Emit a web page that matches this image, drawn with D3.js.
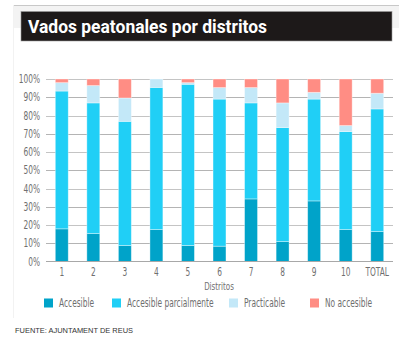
<!DOCTYPE html>
<html lang="es">
<head>
<meta charset="utf-8">
<title>Vados peatonales por distritos</title>
<script src="https://d3js.org/d3.v7.min.js"></script>
<style>
  body { margin: 0; background: #fff; }
  .cond { font-family: "Liberation Sans Narrow", "DejaVu Sans Condensed", "Roboto", sans-serif; }
</style>
</head>
<body>
<script>
// datos (porcentajes)
var distritos = ["1", "2", "3", "4", "5", "6", "7", "8", "9", "10", "TOTAL"];
var accesible    = [17.9, 15.3,  8.8, 17.5,  8.8,  8.4, 34.3, 10.9, 33.2, 17.5, 16.4];
var parcialmente = [75.5, 71.6, 68.0, 77.9, 88.3, 80.6, 52.6, 62.5, 55.8, 53.7, 67.2];
var practicable  = [ 4.6,  9.5, 12.8,  4.6,  0.9,  6.3,  8.4, 13.5,  3.7,  3.3,  8.6];
var noAccesible  = [ 2.0,  3.6, 10.4,  0.0,  2.0,  4.7,  4.7, 13.1,  7.3, 25.5,  7.8];
var series = ["Accesible", "Accesible parcialmente", "Practicable", "No accesible"];
var yTicks = [0, 10, 20, 30, 40, 50, 60, 70, 80, 90, 100];

var colores = ["#00a3c9", "#20cff6", "#c3e8f8", "#ff8d84"];

var w = 414, h = 337;
var svg = d3.select("body").append("svg")
    .attr("width", w)
    .attr("height", h);

// cabecera
svg.append("rect").attr("x", 13).attr("y", 5).attr("width", 386).attr("height", 23).attr("fill", "#f3f3f3");
svg.append("line").attr("x1", 13).attr("x2", 399).attr("y1", 5.5).attr("y2", 5.5).attr("stroke", "#c8c8c8");
svg.append("line").attr("x1", 13.5).attr("x2", 13.5).attr("y1", 5).attr("y2", 318).attr("stroke", "#f2f2f2");
svg.append("rect").attr("x", 21).attr("y", 11.5).attr("width", 371).attr("height", 29.5)
    .attr("fill", "#1d1919").attr("stroke", "#9a9a9a").attr("stroke-width", 0.6);
svg.append("text")
    .attr("x", 28).attr("y", 32.5)
    .attr("fill", "#fff")
    .attr("font-family", "Roboto, 'Liberation Sans', sans-serif")
    .attr("font-weight", "bold")
    .attr("font-size", 18.5)
    .attr("textLength", 239)
    .attr("lengthAdjust", "spacingAndGlyphs")
    .text("Vados peatonales por distritos");

// escalas
var x = d3.scaleBand()
    .domain(distritos)
    .range([46, 393])
    .paddingInner(0.59)
    .paddingOuter(0.295);

var y = d3.scaleLinear()
    .domain([0, 100])
    .range([261.5, 79]);

// rejilla
svg.append("g").selectAll("line")
    .data(yTicks.slice(1))
    .enter()
    .append("line")
    .attr("x1", 46).attr("x2", 393)
    .attr("y1", function(d) { return Math.round(y(d)) + 0.5; })
    .attr("y2", function(d) { return Math.round(y(d)) + 0.5; })
    .attr("stroke", function(d) { return d % 20 == 0 ? "#c4c4c4" : "#b4b4b4"; })
    .attr("stroke-width", 1);

// eje y
var yAxis = d3.axisLeft(y)
    .tickValues(yTicks)
    .tickFormat(function(d) { return d + "%"; })
    .tickSize(0)
    .tickPadding(6);
svg.append("g")
    .attr("transform", "translate(46,0)")
    .call(yAxis)
    .call(function(g) { g.select(".domain").remove(); })
    .selectAll("text")
    .attr("class", "cond")
    .attr("font-size", 11.5)
    .attr("fill", "#6f6f6f");

// barras apiladas
var filas = distritos.map(function(d, i) {
    return { distrito: d, a: accesible[i], p: parcialmente[i], pr: practicable[i], na: noAccesible[i] };
});
var stack = d3.stack().keys(["a", "p", "pr", "na"]);
var capas = stack(filas);

svg.append("g").selectAll("g")
    .data(capas)
    .enter()
    .append("g")
    .attr("fill", function(d, i) { return colores[i]; })
    .selectAll("rect")
    .data(function(d) { return d; })
    .enter()
    .append("rect")
    .attr("x", function(d) { return x(d.data.distrito); })
    .attr("y", function(d) { return y(d[1]); })
    .attr("width", x.bandwidth())
    .attr("height", function(d) { return Math.max(0, y(d[0]) - y(d[1])); })
    .attr("stroke", "rgba(255,255,255,0.45)")
    .attr("stroke-width", 0.8);

// eje x
svg.append("line")
    .attr("x1", 46).attr("x2", 393)
    .attr("y1", 261.5).attr("y2", 261.5)
    .attr("stroke", "#a8a8a8");

var xAxis = d3.axisBottom(x).tickSize(0).tickPadding(6);
svg.append("g")
    .attr("transform", "translate(0,261.5)")
    .call(xAxis)
    .call(function(g) { g.select(".domain").remove(); })
    .selectAll("text")
    .attr("class", "cond")
    .attr("font-size", 11.5)
    .attr("fill", "#6f6f6f");

svg.append("text")
    .attr("class", "cond")
    .attr("x", 219).attr("y", 289.5)
    .attr("text-anchor", "middle")
    .attr("font-size", 11)
    .attr("fill", "#6f6f6f")
    .text("Distritos");

// leyenda
var leyendaX = [44, 112, 229, 310];
var leyenda = svg.append("g").selectAll("g")
    .data(series)
    .enter()
    .append("g")
    .attr("transform", function(d, i) { return "translate(" + leyendaX[i] + ",303)"; });
leyenda.append("rect")
    .attr("x", 0).attr("y", -4.5)
    .attr("width", 9).attr("height", 9)
    .attr("fill", function(d, i) { return colores[i]; });
leyenda.append("text")
    .attr("class", "cond")
    .attr("x", 15).attr("y", 4)
    .attr("font-size", 11.5)
    .attr("fill", "#6f6f6f")
    .text(function(d) { return d; });

// letra estrecha: se comprime el texto si no hay fuente condensada
svg.selectAll("text.cond").each(function() {
    var len = this.getComputedTextLength();
    d3.select(this)
        .attr("textLength", len * 0.72)
        .attr("lengthAdjust", "spacingAndGlyphs");
});

// fuente
svg.append("text")
    .attr("x", 15).attr("y", 333)
    .attr("font-family", "'Liberation Sans', Arial, sans-serif")
    .attr("font-size", 8)
    .attr("fill", "#333")
    .attr("textLength", 118)
    .attr("lengthAdjust", "spacingAndGlyphs")
    .text("FUENTE: AJUNTAMENT DE REUS");
</script>
</body>
</html>
